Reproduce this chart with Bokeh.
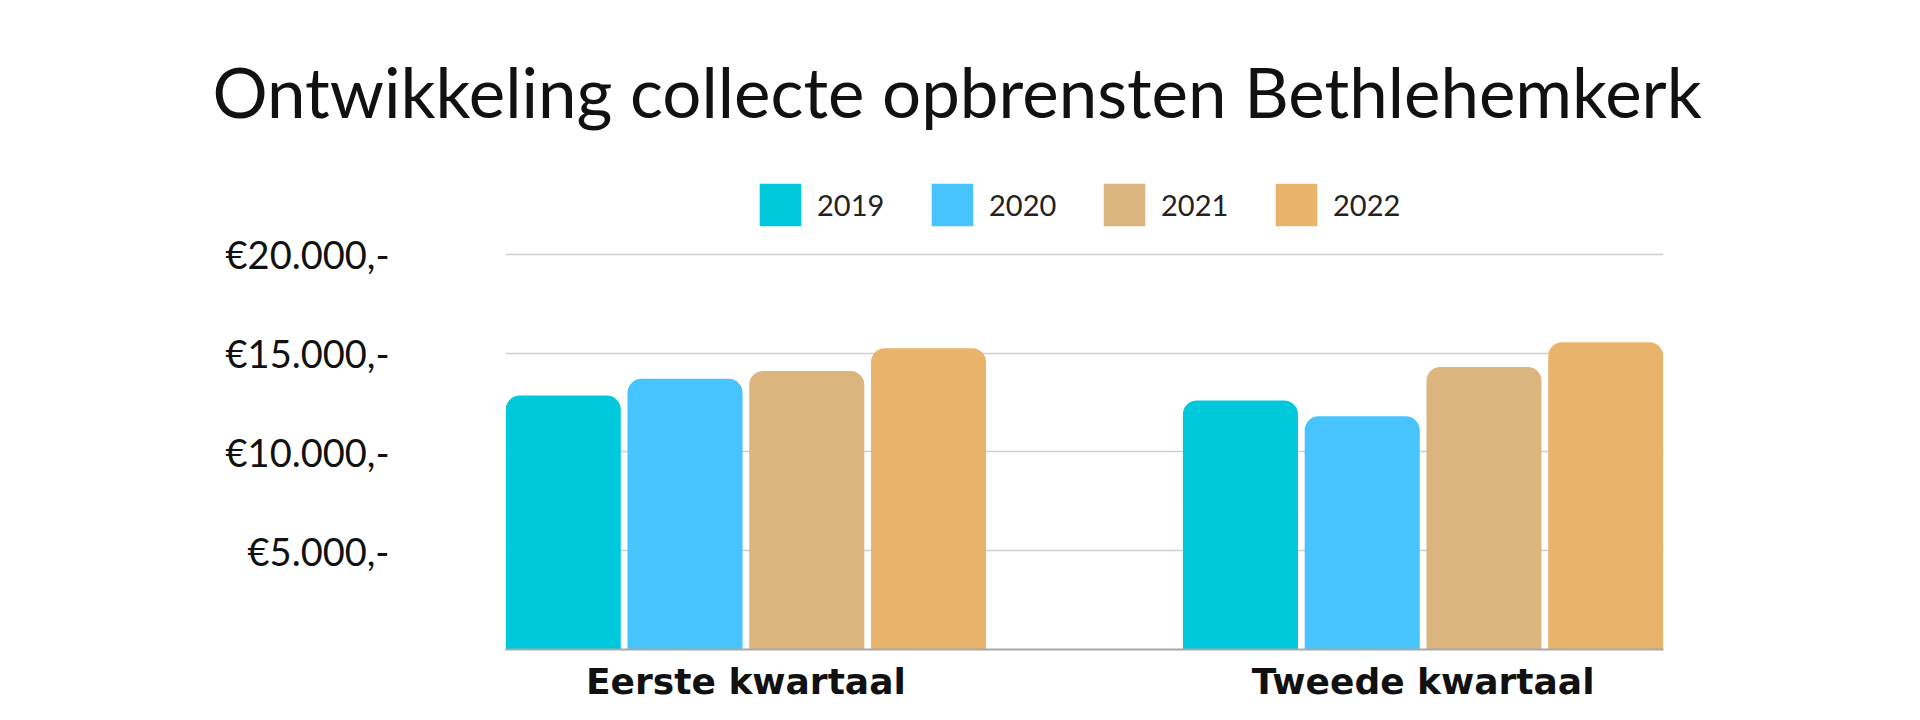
from bokeh.plotting import figure
from bokeh.models import ColumnDataSource, FactorRange, FixedTicker, Legend
from bokeh.transform import dodge
from bokeh.embed import file_html
from bokeh.resources import INLINE

# ---- data ----
quarters = ["Eerste kwartaal", "Tweede kwartaal"]
years = ["2019", "2020", "2021", "2022"]
v2019 = [12850, 12600]
v2020 = [13700, 11800]
v2021 = [14100, 14300]
v2022 = [15250, 15550]
y_ticks = [5000, 10000, 15000, 20000]
y_tick_labels = ["€5.000,-", "€10.000,-", "€15.000,-", "€20.000,-"]
title_text = "Ontwikkeling collecte opbrensten Bethlehemkerk"

colors = ["#00c9db", "#47c3fe", "#dcb57e", "#e8b36b"]

src = ColumnDataSource(dict(quarter=quarters, y2019=v2019, y2020=v2020,
                            y2021=v2021, y2022=v2022))

FONT = "Lato"
PX_PER_UNIT = 0.0198
W, H = 1904, 704
FRAME_LEFT, FRAME_RIGHT = 505, 1663
FRAME_TOP, FRAME_BOTTOM = 150, 650

p = figure(width=W, height=H, output_backend="svg", toolbar_location=None,
           x_range=FactorRange(*quarters, range_padding=-0.145, range_padding_units="absolute"),
           y_range=(0, (FRAME_BOTTOM - FRAME_TOP) / PX_PER_UNIT),
           min_border_left=FRAME_LEFT, min_border_right=W - FRAME_RIGHT,
           min_border_top=FRAME_TOP, min_border_bottom=H - FRAME_BOTTOM)
p.outline_line_color = None
p.background_fill_color = "white"
p.border_fill_color = "white"

p.title.text = title_text
p.title.text_font = FONT
p.title.text_font_style = "normal"
p.title.text_font_size = "69px"
p.title.text_color = "#111111"
p.title.align = "left"
p.title.offset = -293
p.title.standoff = 35

step = 0.1798
bw = 0.1699
cols = ["y2019", "y2020", "y2021", "y2022"]
items = []
for i, (c, yr, col) in enumerate(zip(cols, years, colors)):
    r = p.vbar(x=dodge("quarter", (i - 1.5) * step, range=p.x_range), top=c,
               width=bw, bottom=0, source=src, fill_color=col, line_color=None,
               border_radius=(14, 14, 0, 0))
    items.append((yr, [r]))

legend = Legend(items=items, orientation="horizontal", location=(249, 418),
                glyph_width=52, glyph_height=53, label_standoff=11, spacing=39,
                label_width=70, padding=4, margin=0, border_line_color=None,
                background_fill_alpha=0, label_text_font=FONT,
                label_text_font_size="29px", label_text_color="#222222")
p.add_layout(legend, "center")

p.yaxis.ticker = FixedTicker(ticks=y_ticks)
p.yaxis.major_label_overrides = {t: l for t, l in zip(y_ticks, y_tick_labels)}
p.yaxis.axis_line_color = None
p.yaxis.major_tick_line_color = None
p.yaxis.minor_tick_line_color = None
p.yaxis.major_tick_out = 0
p.yaxis.major_label_text_font = FONT
p.yaxis.major_label_text_font_size = "38px"
p.yaxis.major_label_text_color = "#111111"
p.yaxis.major_label_standoff = 116

p.ygrid.ticker = FixedTicker(ticks=y_ticks)
p.ygrid.grid_line_color = "#cfcfcf"
p.ygrid.grid_line_width = 1.5
p.xgrid.grid_line_color = None

p.xaxis.axis_line_color = "#a8a8a8"
p.xaxis.axis_line_width = 2
p.xaxis.major_tick_line_color = None
p.xaxis.minor_tick_line_color = None
p.xaxis.major_tick_out = 0
p.xaxis.major_label_text_font = "DejaVu Sans"
p.xaxis.major_label_text_font_style = "bold"
p.xaxis.major_label_text_font_size = "36px"
p.xaxis.major_label_text_color = "#111111"
p.xaxis.major_label_standoff = 11

open("out.html", "w").write(file_html(p, INLINE))
